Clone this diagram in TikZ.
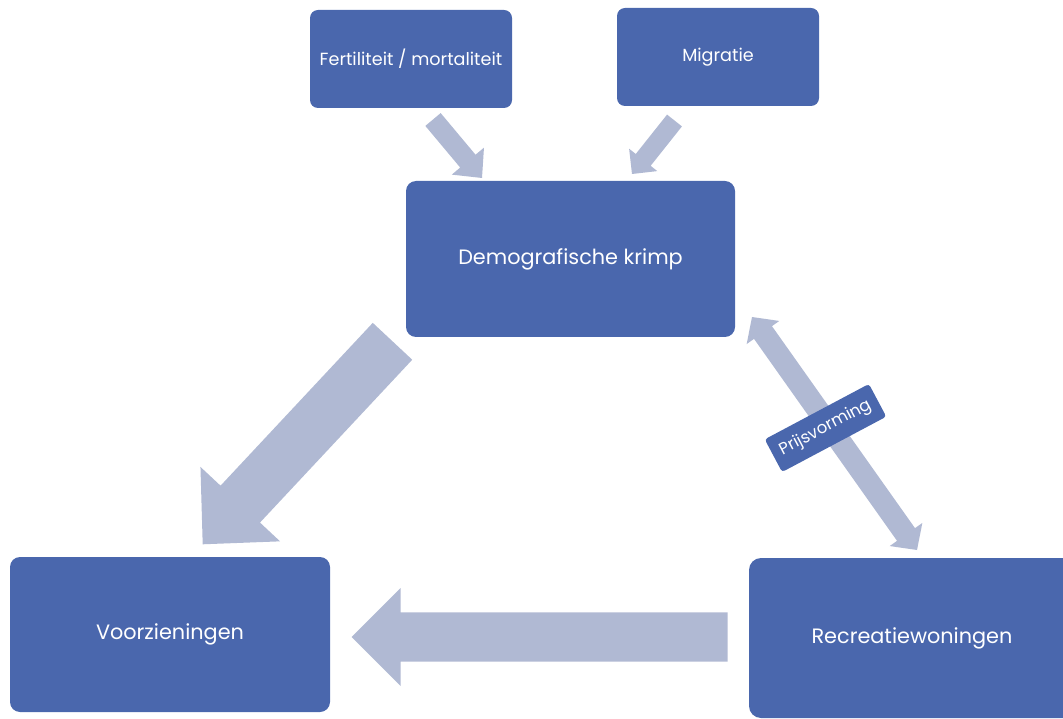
\documentclass[tikz,border=0pt]{standalone}
\usepackage{fontspec}
\newfontfamily\boxfont{Poppins}
\usetikzlibrary{calc}
\definecolor{boxblue}{HTML}{4A67AD}
\definecolor{arrowgray}{HTML}{B0B9D3}
\tikzset{
  box/.style={rectangle, rounded corners=10pt, fill=boxblue, text=white, align=center, inner sep=0pt},
  smallbox/.style={box, rounded corners=8pt, minimum width=202pt, minimum height=98pt, font=\boxfont\fontsize{17.6}{21}\selectfont},
  bigbox/.style={box, font=\boxfont\fontsize{20.8}{25}\selectfont},
  labelbox/.style={box, rounded corners=3pt, minimum width=118pt, minimum height=37pt, font=\boxfont\fontsize{16.5}{19}\selectfont},
  arrowfill/.style={fill=arrowgray}
}
% block arrow: from #1 to #2, shaft half width #3, head half width #4, head length #5
\newcommand{\blockarr}[5]{%
  \coordinate (hb) at ($(#2)!#5!(#1)$);
  \fill[arrowfill] ($(#1)!#3!90:(#2)$) -- ($(hb)!#3!-90:(#1)$) -- ($(hb)!#4!-90:(#1)$) -- (#2)
     -- ($(hb)!#4!90:(#1)$) -- ($(hb)!#3!90:(#1)$) -- ($(#1)!#3!-90:(#2)$) -- cycle;}
\begin{document}
\begin{tikzpicture}[x=1pt, y=-1pt]
\useasboundingbox (0,0) rectangle (1063,719);
\clip (0,0) rectangle (1063,719);
% nodes
\node[smallbox] (fert) at (411,59) {Fertiliteit / mortaliteit};
\node[smallbox] (migr) at (718,57) {Migratie};
\node[bigbox, minimum width=329pt, minimum height=156pt] (demo) at (570.5,259) {Demografische krimp};
\node[bigbox, minimum width=320pt, minimum height=155pt] (voor) at (170,634.5) {Voorzieningen};
\node[bigbox, minimum width=326pt, minimum height=160pt, rounded corners=12pt] (recr) at (912,638) {Recreatiewoningen};
% arrow end points
\coordinate (a1s) at (433,119.5);
\coordinate (a1e) at (482,178);
\coordinate (a2s) at (674.5,120.5);
\coordinate (a2e) at (632,174);
\coordinate (a3s) at (392.5,341.3);
\coordinate (a3e) at (202.7,544.3);
\coordinate (a4s) at (727.7,637);
\coordinate (a4e) at (351.7,637);
\coordinate (a5a) at (752,317);
\coordinate (a5b) at (917,550);
\coordinate (a5m) at ($(a5a)!0.5!(a5b)$);
% arrows
\blockarr{a1s}{a1e}{10pt}{21pt}{22pt}
\blockarr{a2s}{a2e}{9.5pt}{18pt}{18pt}
\blockarr{a3s}{a3e}{27pt}{54.5pt}{55pt}
\blockarr{a4s}{a4e}{24.7pt}{49pt}{49pt}
\blockarr{a5m}{a5a}{11pt}{20pt}{19pt}
\blockarr{a5m}{a5b}{11pt}{20pt}{19pt}
% label on the double arrow
\node[labelbox, rotate=28] (prijs) at (825.5,428) {Prijsvorming};
\end{tikzpicture}
\end{document}
